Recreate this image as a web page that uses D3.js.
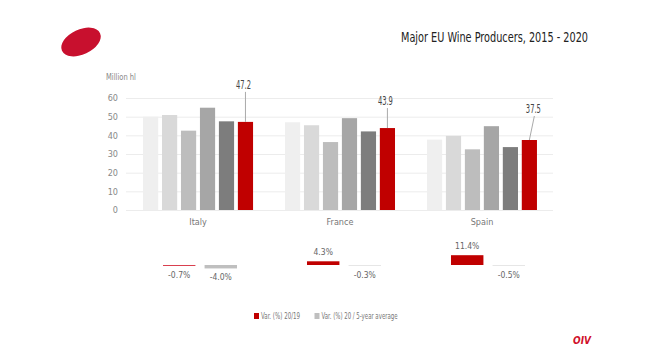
<!DOCTYPE html>
<html><head><meta charset="utf-8">
<script src="https://cdn.jsdelivr.net/npm/d3@7/dist/d3.min.js"></script>
<style>
html,body{margin:0;padding:0;background:#fff;}
svg{display:block;}
text{font-family:"Liberation Sans Narrow","DejaVu Sans Condensed","Roboto",sans-serif;}
</style></head>
<body><svg id="c" width="650" height="347"></svg>
<script>
// ---- data ----
const countries = ["Italy", "France", "Spain"];
const years = ["2015", "2016", "2017", "2018", "2019", "2020"];
const italy = [50.0, 50.9, 42.5, 54.8, 47.5, 47.2];
const france = [47.0, 45.4, 36.4, 49.2, 42.1, 43.9];
const spain = [37.7, 39.7, 32.5, 44.9, 33.7, 37.5];
const varPrev = [-0.7, 4.3, 11.4];      // Var. (%) 20/19
const var5y = [-4.0, -0.3, -0.5];       // Var. (%) 20 / 5-year average
const yTicks = [0, 10, 20, 30, 40, 50, 60];
const varKeys = ["Var. (%) 20/19", "Var. (%) 20 / 5-year average"];
const title = "Major EU Wine Producers, 2015 - 2020";
const unitLabel = "Million hl";

const production = [italy, france, spain];
const fmt1 = v => d3.format(".1f")(v).replace("\u2212", "-");

// ---- layout ----
const svg = d3.select("#c");
const barColors = ["#efefef", "#d9d9d9", "#bdbdbd", "#a6a6a6", "#7d7d7d", "#c00000"];
const red = "#c00000", gray = "#bfbfbf";

// logo ellipse
svg.append("ellipse").attr("cx", 81).attr("cy", 42).attr("rx", 21).attr("ry", 12.5)
  .attr("transform", "rotate(-25,81,42)").attr("fill", "#c8102e");

svg.append("text").attr("x", 588).attr("y", 42).attr("text-anchor", "end")
  .attr("font-size", 14).attr("fill", "#222").attr("textLength", 187)
  .attr("lengthAdjust", "spacingAndGlyphs").text(title);

const y = d3.scaleLinear().domain([0, 60]).range([210, 98]);
const x0 = d3.scaleBand().domain(countries).range([127, 553]).paddingInner(0.225).paddingOuter(0.113);
const x1 = d3.scaleBand().domain(years).range([0, x0.bandwidth()]).paddingInner(0.2);

// grid
svg.append("g").selectAll("line").data(yTicks).join("line")
  .attr("x1", 126).attr("x2", 553).attr("y1", d => y(d) + 0.5).attr("y2", d => y(d) + 0.5)
  .attr("stroke", "#ececec").attr("stroke-width", 1);

const yAxis = svg.append("g").attr("transform", "translate(118,0)")
  .call(d3.axisLeft(y).tickValues(yTicks).tickSize(0).tickPadding(0));
yAxis.select(".domain").remove();
yAxis.selectAll("text").attr("font-size", 9).attr("fill", "#888")
  .attr("font-family", "'Liberation Sans Narrow','DejaVu Sans Condensed',sans-serif");

svg.append("text").attr("x", 106).attr("y", 80).attr("font-size", 8.5).attr("fill", "#888")
  .attr("textLength", 30).attr("lengthAdjust", "spacingAndGlyphs").text(unitLabel);

// bars
const groups = svg.append("g").selectAll("g").data(countries).join("g")
  .attr("transform", d => `translate(${x0(d)},0)`);
groups.selectAll("rect").data((c, i) => production[i].map((v, j) => ({v, j})))
  .join("rect")
  .attr("x", d => x1(years[d.j])).attr("width", x1.bandwidth())
  .attr("y", d => y(d.v)).attr("height", d => y(0) - y(d.v))
  .attr("fill", d => barColors[d.j]);

// category labels
const xAxis = svg.append("g").attr("transform", "translate(0,216)")
  .call(d3.axisBottom(x0).tickSize(0).tickPadding(0));
xAxis.select(".domain").remove();
xAxis.selectAll("text").attr("font-size", 9).attr("fill", "#777").attr("dy", "1em")
  .attr("font-family", "'Liberation Sans Narrow','DejaVu Sans Condensed',sans-serif");

// 2020 annotations (label offset from the bar top: dx, dy)
const annotOffset = [[-2, -33], [-2, -23], [4, -27]];
countries.forEach((c, i) => {
  const v = production[i][5];
  const bx = x0(c) + x1(years[5]) + x1.bandwidth() / 2;
  const by = y(v);
  const [dx, dy] = annotOffset[i];
  svg.append("line").attr("x1", bx + dx + (dx > 0 ? 1 : 2)).attr("y1", by + dy + 3)
    .attr("x2", bx).attr("y2", by).attr("stroke", "#aaa").attr("stroke-width", 1);
  svg.append("text").attr("x", bx + dx).attr("y", by + dy).attr("text-anchor", "middle")
    .attr("font-size", 11.5).attr("fill", "#444")
    .attr("textLength", 15).attr("lengthAdjust", "spacingAndGlyphs").text(fmt1(v));
});

// variation mini chart
const vx0 = d3.scaleBand().domain(countries).range([128, 560]).paddingInner(0.486).paddingOuter(0.243);
const vx1 = d3.scaleBand().domain([0, 1]).range([0, vx0.bandwidth()]).paddingInner(0.22);
const vy = d3.scaleLinear().domain([0, 10]).range([265, 256.4]);
const varSeries = [varPrev, var5y];
const vColors = [red, gray];
countries.forEach((c, i) => {
  varSeries.forEach((s, k) => {
    const v = s[i];
    const bx = vx0(c) + vx1(k);
    const top = Math.min(vy(v), vy(0));
    const h = Math.max(1, Math.abs(vy(v) - vy(0)));
    svg.append("rect").attr("x", bx).attr("width", vx1.bandwidth())
      .attr("y", top).attr("height", h).attr("fill", k === 0 && Math.abs(v) < 1 ? "#d9404f" : (k === 1 && Math.abs(v) < 1 ? "#e6e6e6" : vColors[k]));
    svg.append("text").attr("x", bx + vx1.bandwidth() / 2)
      .attr("y", v >= 0 ? top - 6 : top + h + 12)
      .attr("text-anchor", "middle").attr("font-size", 8.5).attr("fill", "#666")
      .text(fmt1(v) + "%");
  });
});

// legend
const legendX = [254, 314.5];
const legendW = [39, 76];
varKeys.forEach((k, i) => {
  svg.append("rect").attr("x", legendX[i]).attr("y", 313).attr("width", 5).attr("height", 6)
    .attr("fill", vColors[i]);
  svg.append("text").attr("x", legendX[i] + 7).attr("y", 319).attr("font-size", 8)
    .attr("fill", "#777").attr("textLength", legendW[i]).attr("lengthAdjust", "spacingAndGlyphs").text(k);
});

// OIV mark
svg.append("text").attr("x", 573).attr("y", 344).attr("font-size", 10).attr("font-weight", "bold")
  .attr("font-style", "italic").attr("fill", "#d0102a")
  .attr("font-family", "'Liberation Sans','DejaVu Sans',sans-serif").text("OIV");
</script></body></html>
